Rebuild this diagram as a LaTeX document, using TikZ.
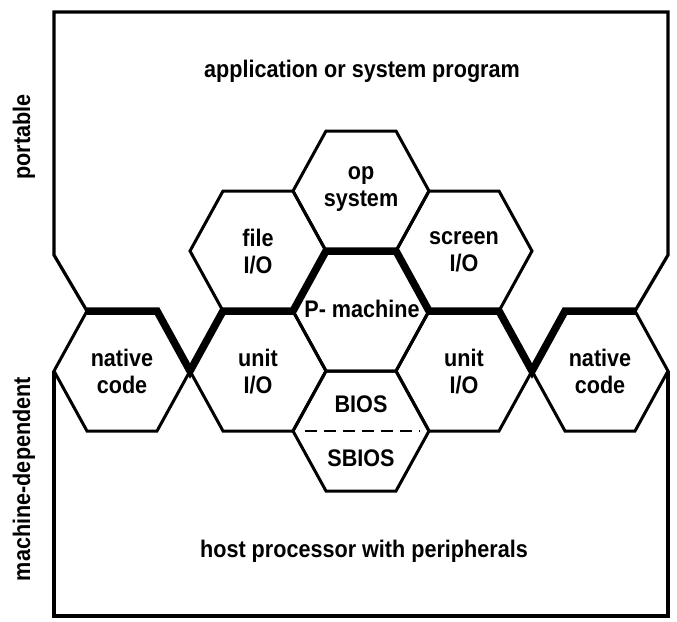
\documentclass[tikz,border=0pt]{standalone}
\usepackage{fontspec}
\setmainfont{Liberation Sans}[FakeStretch=0.9]
\tikzset{
  hexline/.style={line width=3pt, line join=miter},
  frameline/.style={line width=3.2pt, line join=miter},
  boundary/.style={line width=7.5pt, line join=miter},
  dashline/.style={line width=2pt, dash pattern=on 12pt off 7pt},
  lab/.style={font=\fontsize{24}{27}\selectfont\bfseries, align=center, inner sep=0pt},
  hexagon/.pic={\draw[hexline] (-68,0) -- (-35,-60) -- (35,-60) -- (68,0) -- (35,60) -- (-35,60) -- cycle;}
}
\begin{document}
\begin{tikzpicture}[x=1pt,y=-1pt]
\useasboundingbox (0,0) rectangle (677,621);
% frame
\draw[frameline] (87,311) -- (54,255) -- (54,12) -- (668,12) -- (668,255) -- (635,311);
\draw[frameline] (54,371) -- (54,616) -- (668,616) -- (668,371);
% hexagons
\pic at (122,371) {hexagon};
\pic at (258,371) {hexagon};
\pic at (258,251) {hexagon};
\pic at (361,191) {hexagon};
\pic at (361,311) {hexagon};
\pic at (361,431) {hexagon};
\pic at (464,251) {hexagon};
\pic at (464,371) {hexagon};
\pic at (600,371) {hexagon};
% dashed divider in BIOS hexagon
\coordinate (dl) at (305,431);
\coordinate (dr) at (420,431);
\draw[dashline] (dl) -- (dr);
% portable / machine-dependent boundary
\draw[boundary] (87,311) -- (157,311) -- (190,371) -- (223,311) -- (293,311)
  -- (326,251) -- (396,251) -- (429,311) -- (499,311) -- (532,371)
  -- (565,311) -- (635,311);
% labels
\node[lab] (ncl) at (122,371) {native\\code};
\node[lab] (uiol) at (258,372) {unit\\I/O};
\node[lab] (fio) at (258,252) {file\\I/O};
\node[lab] (os) at (361,189) {op\\system};
\node[lab, anchor=base] (pm) at (362,317) {P- machine};
\node[lab, anchor=base] (bios) at (361,412) {BIOS};
\node[lab, anchor=base] (sbios) at (361,466) {SBIOS};
\node[lab] (sio) at (464,252) {screen\\I/O};
\node[lab] (uior) at (464,372) {unit\\I/O};
\node[lab] (ncr) at (600,371) {native\\code};
\node[lab, anchor=base] (app) at (362,77) {application or system program};
\node[lab, anchor=base] (host) at (364,557) {host processor with peripherals};
\node[lab, rotate=90] (port) at (24,137) {portable};
\node[lab, rotate=90] (md) at (24,479) {machine-dependent};
\end{tikzpicture}
\end{document}
